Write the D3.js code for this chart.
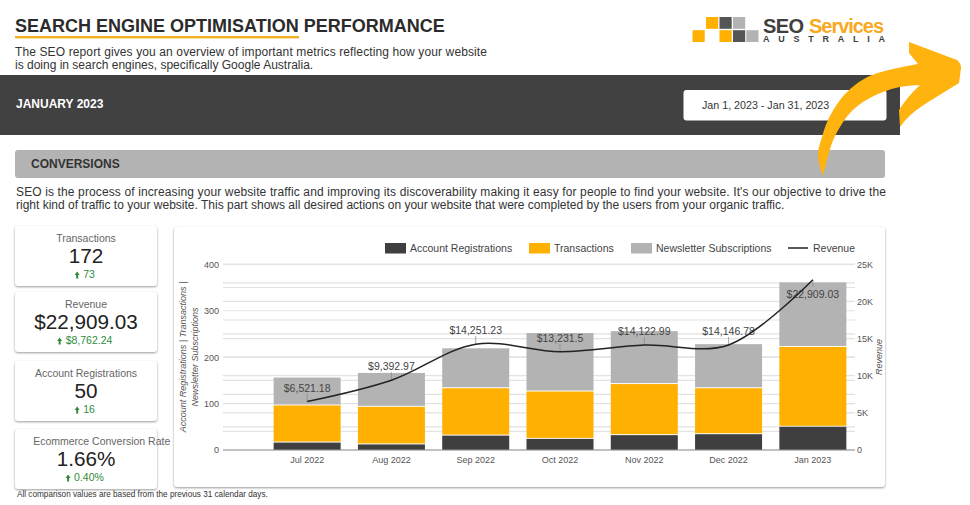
<!DOCTYPE html>
<html>
<head>
<meta charset="utf-8">
<script src="https://cdn.jsdelivr.net/npm/d3@7"></script>
<style>
  html, body { margin: 0; padding: 0; background: #fff; }
  svg { display: block; }
  text { font-family: "Liberation Sans", Arial, sans-serif; }
  .card { filter: drop-shadow(0 1px 1px rgba(0,0,0,0.4)); }
  .axis path { display: none; }
  .axis line { display: none; }
  .axis text { font-size: 9px; fill: #555; font-family: "Liberation Sans", Arial, sans-serif; }
</style>
</head>
<body>
<svg id="chart" width="970" height="505"></svg>
<script>
// chart data
const months = ["Jul 2022", "Aug 2022", "Sep 2022", "Oct 2022", "Nov 2022", "Dec 2022", "Jan 2023"];
const registrations = [16, 12, 31, 24, 32, 34, 50];
const transactions = [80, 81, 102, 102, 110, 99, 172];
const newsletters = [60, 73, 86, 126, 114, 95, 139];
const revenue = [6521.18, 9392.97, 14251.23, 13231.5, 14122.99, 14146.78, 22909.03];
const revenueLabels = ["$6,521.18", "$9,392.97", "$14,251.23", "$13,231.5", "$14,122.99", "$14,146.78", "$22,909.03"];
const leftTicks = [0, 100, 200, 300, 400];
const leftMinor = [50, 150, 250, 350];
const rightTicks = [0, 5000, 10000, 15000, 20000, 25000];
const rightMinor = [2500, 7500, 12500, 17500, 22500];

// scorecards
const cardNames = ["Transactions", "Revenue", "Account Registrations", "Ecommerce Conversion Rate"];
const cardValues = ["172", "$22,909.03", "50", "1.66%"];
const cardDeltas = ["73", "$8,762.24", "16", "0.40%"];
const cardTops = [226, 292, 361, 429];

const seriesNames = ["Account Registrations", "Transactions", "Newsletter Subscriptions"];
const seriesColors = ["#3f3f3f", "#ffb000", "#b3b3b3"];

const svg = d3.select("#chart");

function addText(x, y, size, color, str) {
  return svg.append("text").attr("x", x).attr("y", y)
    .attr("font-size", size).attr("fill", color).text(str);
}

// header
addText(15, 32, 18, "#2b2b2b", "SEARCH ENGINE OPTIMISATION PERFORMANCE").attr("font-weight", "bold");
svg.append("rect").attr("x", 15).attr("y", 36).attr("width", 284).attr("height", 2.4).attr("fill", "#f5b021");
addText(15, 56, 12, "#333", "The SEO report gives you an overview of important metrics reflecting how your website")
  .attr("textLength", 472).attr("lengthAdjust", "spacing");
addText(15, 69, 12, "#333", "is doing in search engines, specifically Google Australia.");

// logo
const logoSquares = [
  [692.5, 30.2, "#ffb000"], [706, 17, "#ffb000"], [719.5, 30.2, "#ffb000"], [719.5, 17, "#555"],
  [733, 17, "#b3b3b3"], [733, 30.2, "#555"], [746.3, 30.2, "#b3b3b3"]
];
svg.append("g").selectAll("rect").data(logoSquares).enter().append("rect")
  .attr("x", d => d[0]).attr("y", d => d[1]).attr("width", 12.2).attr("height", 11.8)
  .attr("fill", d => d[2]);
addText(763, 33, 20, "#3f3f3f", "SEO").attr("font-weight", "bold").attr("textLength", 41);
addText(809, 33, 20, "#f9a920", "Services").attr("font-weight", "bold").attr("textLength", 75);
addText(763, 41.7, 9, "#3f3f3f", "AUSTRALIA").attr("font-weight", "bold")
  .attr("textLength", 122).attr("lengthAdjust", "spacing");

// dark band
svg.append("rect").attr("x", 0).attr("y", 75).attr("width", 900).attr("height", 60).attr("fill", "#414141");
addText(16, 108, 12, "#fff", "JANUARY 2023").attr("font-weight", "bold");
svg.append("rect").attr("x", 683.5).attr("y", 90).attr("width", 203).attr("height", 30.5).attr("rx", 3).attr("fill", "#fff");
addText(702, 109, 10.7, "#333", "Jan 1, 2023 - Jan 31, 2023");

// conversions heading
svg.append("rect").attr("x", 15).attr("y", 150).attr("width", 870).attr("height", 28).attr("rx", 3).attr("fill", "#b3b3b3");
addText(31, 168, 12, "#333", "CONVERSIONS").attr("font-weight", "bold");
addText(16, 196, 12, "#333", "SEO is the process of increasing your website traffic and improving its discoverability making it easy for people to find your website. It's our objective to drive the")
  .attr("textLength", 870).attr("lengthAdjust", "spacing");
addText(16, 209, 12, "#333", "right kind of traffic to your website. This part shows all desired actions on your website that were completed by the users from your organic traffic.");

// scorecards
cardNames.forEach((name, i) => {
  const top = cardTops[i];
  svg.append("rect").attr("class", "card").attr("x", 15).attr("y", top)
    .attr("width", 142).attr("height", 60).attr("rx", 3).attr("fill", "#fff");
  addText(i == 3 ? 101.7 : 86, top + 16, 10.5, "#666", name).attr("text-anchor", "middle");
  addText(86, top + 37, 20.7, "#222", cardValues[i]).attr("text-anchor", "middle");
  const delta = addText(89, top + 52, 10.5, "#2e8b3d", cardDeltas[i]).attr("text-anchor", "middle");
  const ax = 89 - delta.node().getComputedTextLength() / 2 - 6;
  svg.append("path")
    .attr("d", d3.line()([[ax - 2.5, top + 49], [ax, top + 45.5], [ax + 2.5, top + 49], [ax + 1, top + 49], [ax + 1, top + 52.5], [ax - 1, top + 52.5], [ax - 1, top + 49]]) + "Z")
    .attr("fill", "#2e8b3d");
});
addText(17, 497, 8.2, "#333", "All comparison values are based from the previous 31 calendar days.");

// chart panel
svg.append("rect").attr("class", "card").attr("x", 174).attr("y", 227)
  .attr("width", 711).attr("height", 260).attr("rx", 3).attr("fill", "#fff");

const plotLeft = 223, plotRight = 855, plotTop = 264.3, plotBottom = 450;
const x = d3.scaleBand().domain(months).range([265, plotRight]).paddingInner(0.205).paddingOuter(0.1025);
const y = d3.scaleLinear().domain([0, 400]).range([plotBottom, plotTop]);
const yRight = d3.scaleLinear().domain([0, 25000]).range([plotBottom, plotTop]);

// grid lines of both axes
const gridRows = leftTicks.map(y).concat(leftMinor.map(y), rightTicks.map(yRight), rightMinor.map(yRight));
svg.append("g").selectAll("line").data(gridRows).enter().append("line")
  .attr("x1", plotLeft).attr("x2", plotRight)
  .attr("y1", d => d).attr("y2", d => d)
  .attr("stroke", "#e2e2e2").attr("stroke-width", 1.2);

// stacked bars
const rows = months.map((m, i) => ({ month: m, a: registrations[i], b: transactions[i], c: newsletters[i] }));
const stack = d3.stack().keys(["a", "b", "c"])(rows);
svg.append("g").selectAll("g").data(stack).enter().append("g")
  .attr("fill", (d, i) => seriesColors[i])
  .selectAll("rect").data(d => d).enter().append("rect")
  .attr("x", d => x(d.data.month)).attr("width", x.bandwidth())
  .attr("y", d => y(d[1]))
  .attr("height", d => Math.max(0, y(d[0]) - y(d[1]) - (d[0] > 0 ? 1 : 0)));

svg.append("line").attr("x1", plotLeft).attr("x2", plotRight).attr("y1", y(0)).attr("y2", y(0))
  .attr("stroke", "#999").attr("stroke-width", 1);

// axes
svg.append("g").attr("class", "axis").attr("transform", "translate(" + plotLeft + ",0)")
  .call(d3.axisLeft(y).tickValues(leftTicks).tickSize(0).tickPadding(4));
svg.append("g").attr("class", "axis").attr("transform", "translate(" + plotRight + ",0)")
  .call(d3.axisRight(yRight).tickValues(rightTicks).tickSize(0).tickPadding(2)
    .tickFormat(d => d ? d / 1000 + "K" : "0"));
svg.append("g").attr("class", "axis").attr("transform", "translate(0," + plotBottom + ")")
  .call(d3.axisBottom(x).tickSize(0).tickPadding(7));

// axis titles
function axisTitle(px, str) {
  svg.append("text").attr("transform", "translate(" + px + ",357) rotate(-90)")
    .attr("text-anchor", "middle").attr("font-size", 9).attr("font-style", "italic")
    .attr("fill", "#555").text(str);
}
axisTitle(186, "Account Registrations | Transactions |");
axisTitle(198, "Newsletter Subscriptions");
axisTitle(882, "Revenue");

// revenue labels and leader ticks
const labelBelow = months.length - 1;
svg.append("g").selectAll("line").data(revenue).enter().append("line")
  .attr("x1", (d, i) => x(months[i]) + x.bandwidth() / 2)
  .attr("x2", (d, i) => x(months[i]) + x.bandwidth() / 2)
  .attr("y1", d => yRight(d))
  .attr("y2", (d, i) => yRight(d) + (i == labelBelow ? 7 : -8))
  .attr("stroke", "#888").attr("stroke-width", 0.7);
svg.append("g").selectAll("text").data(revenueLabels).enter().append("text")
  .attr("x", (d, i) => x(months[i]) + x.bandwidth() / 2)
  .attr("y", (d, i) => yRight(revenue[i]) + (i == labelBelow ? 18 : -10))
  .attr("text-anchor", "middle").attr("font-size", 10.5).attr("fill", "#444")
  .text(d => d);

// revenue line
const revenueLine = d3.line()
  .x((d, i) => x(months[i]) + x.bandwidth() / 2)
  .y(d => yRight(d))
  .curve(d3.curveCatmullRom.alpha(0.5));
svg.append("path").attr("d", revenueLine(revenue)).attr("fill", "none")
  .attr("stroke", "#222").attr("stroke-width", 1.5);

// legend
const legendX = [385, 529, 631];
seriesNames.forEach((name, i) => {
  svg.append("rect").attr("x", legendX[i]).attr("y", 243).attr("width", 21).attr("height", 10.5).attr("fill", seriesColors[i]);
  addText(legendX[i] + 25, 252, 10.5, "#444", name);
});
svg.append("line").attr("x1", 788).attr("x2", 808).attr("y1", 248).attr("y2", 248)
  .attr("stroke", "#222").attr("stroke-width", 1.5);
addText(813, 252, 10.5, "#444", "Revenue");

// decorative arrow over the header
const arrowCurve = d3.line().curve(d3.curveCatmullRom.alpha(0.5));
const arrowOuter = arrowCurve([[823, 176], [819, 163], [818, 153], [822, 137], [828, 120], [840, 100], [855, 85], [872, 75], [893, 69], [918, 64]]);
const arrowInner = arrowCurve([[920, 85], [900, 87], [883, 92], [863, 102], [850, 113], [840, 127], [832, 143], [827, 160], [823, 176]]);
svg.append("path")
  .attr("d", arrowOuter + "L909,53 L909,42 L957,60 Q961,63 961,68 L959,83 L925,104 Q908,115 900,127 L899,110 Q908,96 920,85"
    + arrowInner.replace(/^M/, "L") + "Z")
  .attr("fill", "#ffb30f");
</script>
</body>
</html>
